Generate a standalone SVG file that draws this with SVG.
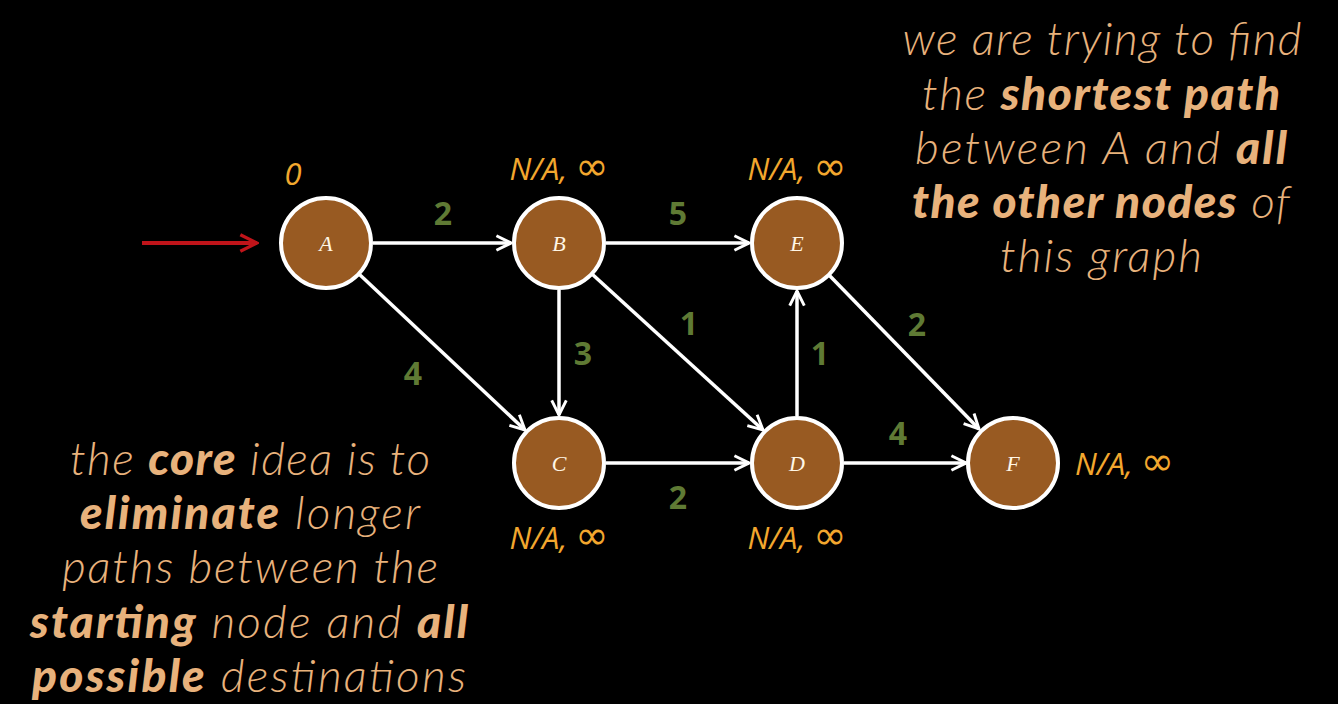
<svg xmlns="http://www.w3.org/2000/svg" width="1338" height="704" viewBox="0 0 1338 704">
<style>
.node circle{fill:#985a22;stroke:#ffffff;stroke-width:4}
.node text.l{font-family:"Liberation Serif",serif;font-style:italic;font-size:22px;fill:#fff6e6;text-anchor:middle}
.edge{stroke:#ffffff;stroke-width:3.5;fill:none;marker-end:url(#ah)}
.w{font-family:"Open Sans","Liberation Sans",sans-serif;font-weight:bold;font-size:32px;fill:#5f7a34;text-anchor:middle}
.d{font-family:"Open Sans","Liberation Sans",sans-serif;font-style:italic;font-size:31px;fill:#f2a72e}
.d .inf{font-family:"DejaVu Sans",sans-serif;font-style:normal;font-size:40px}
.t{font-family:Lato,"Open Sans",sans-serif;font-style:italic;font-weight:300;font-size:46px;fill:#e8b27c;text-anchor:middle}
.t .b{font-weight:900}
</style>
<defs>
<marker id="ah" viewBox="0 0 12 12" refX="11" refY="6" markerWidth="5" markerHeight="5" orient="auto" markerUnits="strokeWidth">
<path d="M1,1 L11,6 L1,11" fill="none" stroke="#ffffff" stroke-width="2"/>
</marker>
<marker id="rh" viewBox="0 0 12 12" refX="11" refY="6" markerWidth="5" markerHeight="5" orient="auto" markerUnits="strokeWidth">
<path d="M1,1 L11,6 L1,11" fill="none" stroke="#c0141a" stroke-width="2"/>
</marker>
</defs>
<rect width="1338" height="704" fill="#000000"/>
<g id="connectors">
<line x1="142" y1="243" x2="257" y2="243" stroke="#c0141a" stroke-width="4" marker-end="url(#rh)"/>
<line class="edge" x1="373" y1="243" x2="511" y2="243"/>
<line class="edge" x1="606" y1="243" x2="749" y2="243"/>
<line class="edge" x1="359" y1="274" x2="525" y2="430"/>
<line class="edge" x1="559" y1="290" x2="559" y2="415"/>
<line class="edge" x1="592" y1="274" x2="763" y2="430"/>
<line class="edge" x1="606" y1="463" x2="749" y2="463"/>
<line class="edge" x1="797" y1="416" x2="797" y2="291"/>
<line class="edge" x1="829" y1="275" x2="979" y2="429"/>
<line class="edge" x1="844" y1="463" x2="966" y2="463"/>
<text class="w" x="443" y="225">2</text>
<text class="w" x="678" y="225">5</text>
<text class="w" x="413" y="385">4</text>
<text class="w" x="583" y="365">3</text>
<text class="w" x="689" y="335">1</text>
<text class="w" x="820" y="365">1</text>
<text class="w" x="917" y="336">2</text>
<text class="w" x="898" y="445">4</text>
<text class="w" x="678" y="509">2</text>
</g>
<g id="A" class="node"><circle cx="326" cy="243" r="45"/><text class="l" x="326" y="251">A</text><text class="d" x="293" y="185" text-anchor="middle">0</text></g>
<g id="B" class="node"><circle cx="559" cy="243" r="45"/><text class="l" x="559" y="251">B</text><text class="d" x="559" y="180" text-anchor="middle">N/A, <tspan class="inf">∞</tspan></text></g>
<g id="E" class="node"><circle cx="797" cy="243" r="45"/><text class="l" x="797" y="251">E</text><text class="d" x="797" y="180" text-anchor="middle">N/A, <tspan class="inf">∞</tspan></text></g>
<g id="C" class="node"><circle cx="559" cy="463" r="45"/><text class="l" x="559" y="471">C</text><text class="d" x="559" y="549" text-anchor="middle">N/A, <tspan class="inf">∞</tspan></text></g>
<g id="D" class="node"><circle cx="797" cy="463" r="45"/><text class="l" x="797" y="471">D</text><text class="d" x="797" y="549" text-anchor="middle">N/A, <tspan class="inf">∞</tspan></text></g>
<g id="F" class="node"><circle cx="1013" cy="463" r="45"/><text class="l" x="1013" y="471">F</text><text class="d" x="1075" y="475">N/A, <tspan class="inf">∞</tspan></text></g>
<g id="note-right">
<text class="t" x="1102" y="55" textLength="399" lengthAdjust="spacing">we are trying to find</text>
<text class="t" x="1101" y="110" textLength="358" lengthAdjust="spacing">the <tspan class="b">shortest path</tspan></text>
<text class="t" x="1101" y="164" textLength="372" lengthAdjust="spacing">between A and <tspan class="b">all</tspan></text>
<text class="t" x="1101" y="218" textLength="378" lengthAdjust="spacing"><tspan class="b">the other nodes</tspan> of</text>
<text class="t" x="1101" y="272" textLength="202" lengthAdjust="spacing">this graph</text>
</g>
<g id="note-left">
<text class="t" x="250" y="475" textLength="360" lengthAdjust="spacing">the <tspan class="b">core</tspan> idea is to</text>
<text class="t" x="250" y="529" textLength="340" lengthAdjust="spacing"><tspan class="b">eliminate</tspan> longer</text>
<text class="t" x="250" y="583" textLength="376" lengthAdjust="spacing">paths between the</text>
<text class="t" x="249" y="638" textLength="438" lengthAdjust="spacing"><tspan class="b">starting</tspan> node and <tspan class="b">all</tspan></text>
<text class="t" x="249" y="692" textLength="434" lengthAdjust="spacing"><tspan class="b">possible</tspan> destinations</text>
</g>
</svg>
